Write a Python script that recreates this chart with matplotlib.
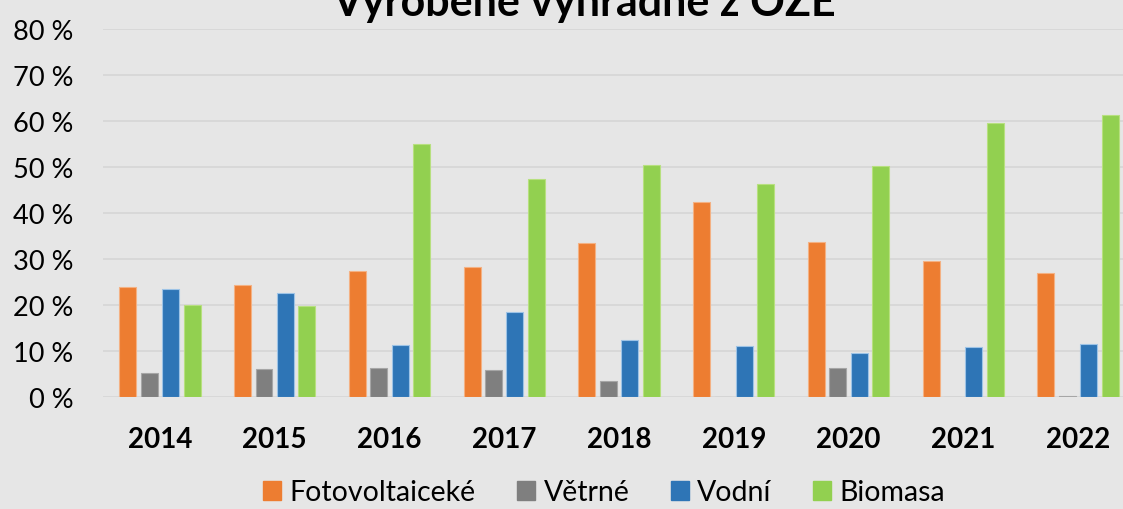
import numpy as np
import matplotlib.pyplot as plt
from matplotlib.patches import Patch

plt.rcParams['font.family'] = ['Lato', 'DejaVu Sans']

years = ['2014', '2015', '2016', '2017', '2018', '2019', '2020', '2021', '2022']
series = ['Fotovoltaiceké', 'Větrné', 'Vodní', 'Biomasa']
foto = [23.9, 24.3, 27.4, 28.3, 33.5, 42.4, 33.7, 29.6, 27.0]
vetrne = [5.2, 6.1, 6.3, 5.9, 3.5, 0.0, 6.3, 0.0, 0.2]
vodni = [23.5, 22.6, 11.3, 18.5, 12.4, 11.1, 9.6, 10.9, 11.5]
biomasa = [20.0, 19.8, 55.0, 47.4, 50.4, 46.3, 50.2, 59.5, 61.2]
colors = ['#ED7D31', '#7F7F7F', '#2E75B6', '#92D050']
edges = ['#F4B183', '#A6A6A6', '#9DC3E6', '#B7E07F']

bg = '#E6E6E6'
fig = plt.figure(figsize=(11.23, 5.10), dpi=100, facecolor=bg)
# plot area runs past the right edge (the reference is cropped)
ax = fig.add_axes([102.6 / 1123, 112 / 510, 1032.75 / 1123, 368 / 510])
ax.set_facecolor(bg)

x = np.arange(len(years))
w = 0.148
step = 0.187
for i, vals in enumerate([foto, vetrne, vodni, biomasa]):
    ax.bar(x + (i - 1.5) * step, vals, w, color=colors[i],
           edgecolor=edges[i], linewidth=0.8, zorder=3)

ax.set_xlim(-0.5, len(years) - 0.5)
ax.set_ylim(0, 80)
ax.set_yticks(range(0, 81, 10))
ax.set_yticklabels([f'{v} %' for v in range(0, 81, 10)], fontsize=19.5)
ax.set_xticks(x)
ax.set_xticklabels(years, fontsize=20, fontweight='bold')
ax.tick_params(length=0)
ax.tick_params(axis='y', pad=21)
ax.tick_params(axis='x', pad=21)
ax.grid(axis='y', color='#D6D6D6', linewidth=1.2, zorder=0)
for s in ax.spines.values():
    s.set_visible(False)

fig.text(0.52, 1.034, 'Vyrobené výhradně z OZE', ha='center', va='top',
         fontsize=31, fontweight='bold')

handles = [Patch(facecolor=c, edgecolor=c) for c in colors]
fig.legend(handles, series, loc='lower center', bbox_to_anchor=(0.538, -0.043),
           ncol=4, frameon=False, fontsize=20.5, handlelength=0.63,
           handleheight=0.63, columnspacing=1.45, handletextpad=0.3)

fig.savefig('out.png', dpi=100, facecolor=bg)
